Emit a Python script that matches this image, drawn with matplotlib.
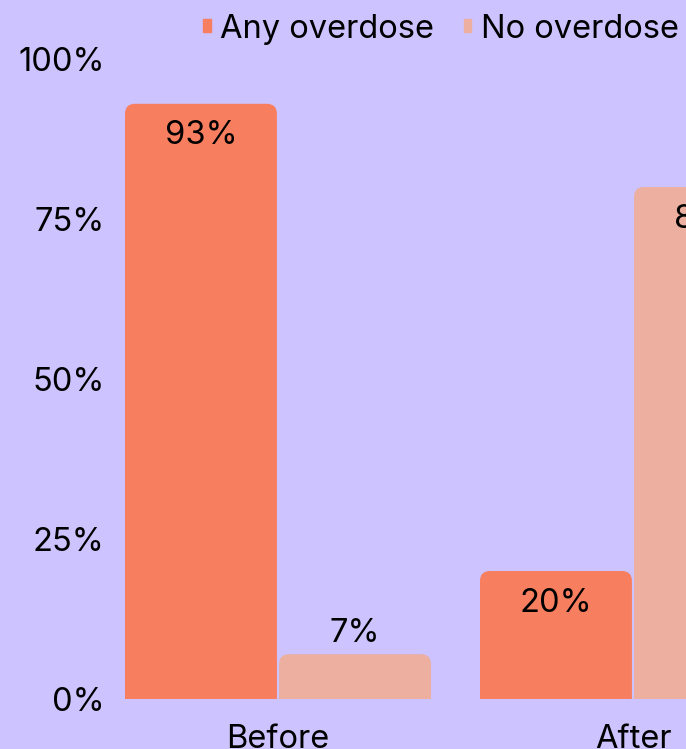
import numpy as np
import matplotlib.pyplot as plt
from matplotlib.patches import FancyBboxPatch

# dados
categories = ['Before', 'After']
series_names = ['Any overdose', 'No overdose']
any_overdose = [93, 20]
no_overdose = [7, 80]
yticks = [0, 25, 50, 75, 100]

bg = '#CDC3FE'
colors = ['#F77F60', '#ECAFA0']

plt.rcParams['font.family'] = ['Inter', 'DejaVu Sans']

fig = plt.figure(figsize=(6.86, 7.49), dpi=100, facecolor=bg)
ax = fig.add_axes([100.5 / 686, 50 / 749, 710 / 686, 640 / 749])
ax.set_facecolor(bg)

x = np.arange(len(categories))
w = 0.428
off = 0.217
fs = 23.5
for vals, dx, col, name in [(any_overdose, -off, colors[0], series_names[0]),
                            (no_overdose, off, colors[1], series_names[1])]:
    bars = ax.bar(x + dx, vals, width=w, color=col, label=name)
    for b, v in zip(bars, vals):
        b.set_visible(False)
        r = 0.028
        patch = FancyBboxPatch((b.get_x(), -3), b.get_width(), v + 3,
                               boxstyle=f'round,pad=0,rounding_size={r}',
                               mutation_aspect=1.57 / r,
                               facecolor=col, edgecolor='none')
        ax.add_patch(patch)
        cx = b.get_x() + b.get_width() / 2
        if v > 12:
            ax.text(cx, v - 5.0, f'{v}%', ha='center', va='center', fontsize=fs)
        else:
            ax.text(cx, v + 3.3, f'{v}%', ha='center', va='center', fontsize=fs)

ax.set_xlim(-0.5, 1.5)
ax.set_ylim(0, 100)
ax.set_yticks(yticks)
ax.set_yticklabels([f'{t}%' for t in yticks], fontsize=fs)
ax.set_xticks(x)
ax.set_xticklabels(categories, fontsize=fs)
ax.tick_params(axis='both', length=0)
ax.tick_params(axis='x', pad=18)
ax.tick_params(axis='y', pad=-3)
for s in ax.spines.values():
    s.set_visible(False)

leg = fig.legend(handles=[plt.Rectangle((0, 0), 1, 1, color=c) for c in colors],
                 labels=series_names, loc='upper left', bbox_to_anchor=(174 / 686, 1.021),
                 ncol=2, frameon=False, fontsize=fs, handlelength=0.22, handleheight=0.22,
                 handletextpad=0.3, columnspacing=0.9)

fig.savefig('out.png', dpi=100, facecolor=bg)
